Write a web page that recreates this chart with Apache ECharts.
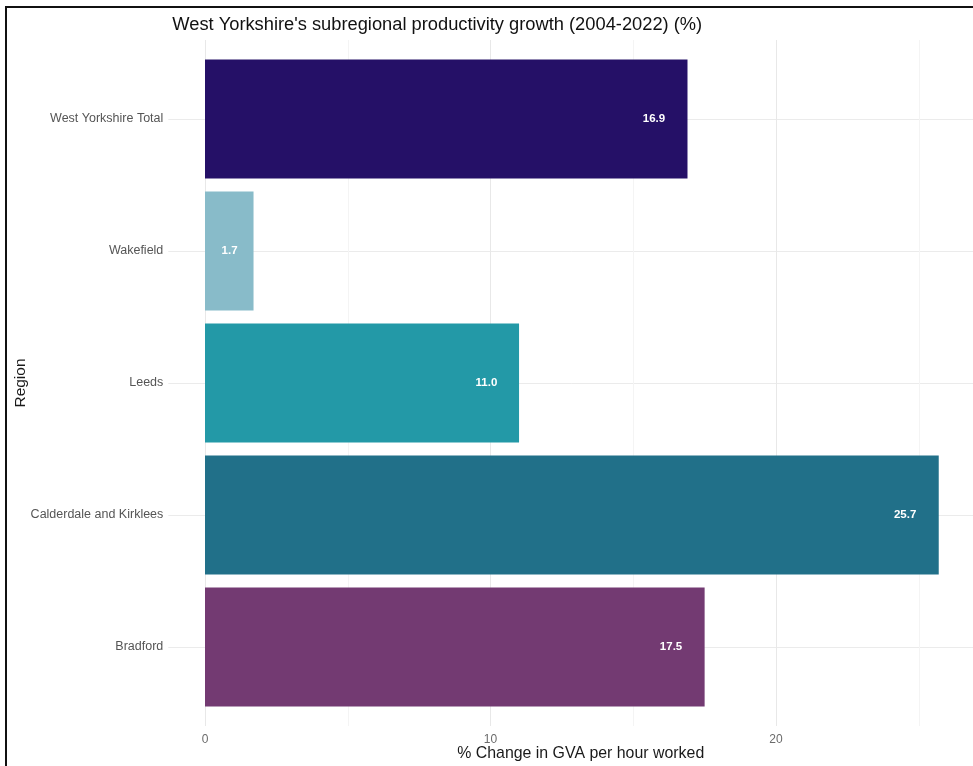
<!DOCTYPE html>
<html>
<head>
<meta charset="utf-8">
<script src="https://cdn.jsdelivr.net/npm/echarts@6/dist/echarts.min.js"></script>
<style>
  html, body { margin: 0; padding: 0; background: #fff; }
  #wrap { position: relative; width: 973px; height: 766px; overflow: hidden; }
  #chart { position: absolute; left: 0; top: 0; width: 973px; height: 766px; }
  #frame { position: absolute; left: 5px; top: 6px; width: 1000px; height: 800px;
           border-left: 2px solid #111; border-top: 2px solid #111; pointer-events: none; }
</style>
</head>
<body>
<div id="wrap"><div id="chart"></div><div id="frame"></div></div>
<script>
// Productivity growth by sub-region, top to bottom
const regions = ['West Yorkshire Total', 'Wakefield', 'Leeds', 'Calderdale and Kirklees', 'Bradford'];
const growth = [16.9, 1.7, 11.0, 25.7, 17.5];
const barColors = ['#251067', '#88bbc9', '#2399a7', '#217089', '#733a72'];
const majorStep = 10;
const minorStep = 5;

const FONT = "'Liberation Sans', Arial, sans-serif";

// panel geometry: value axis padded by 5% of the data range on both sides
const pad = 0.05 * Math.max(...growth);
const xMin = -pad;
const xMax = Math.max(...growth) + pad;
const pxPerUnit = 28.55;
const zeroX = 205;
const panelLeft = zeroX - pad * pxPerUnit;
const panelWidth = (xMax - xMin) * pxPerUnit;

// value labels sit one label-width inside the bar end
const measureCtx = document.createElement('canvas').getContext('2d');
const labelFont = 'bold 11.5px ' + FONT;
measureCtx.font = labelFont;
const labelText = v => v.toFixed(1);
const labelGap = v => measureCtx.measureText(labelText(v)).width;

const chart = echarts.init(document.getElementById('chart'), null, { renderer: 'canvas' });

chart.setOption({
  backgroundColor: '#fff',
  animation: false,
  title: {
    text: "West Yorkshire's subregional productivity growth (2004-2022) (%)",
    left: panelLeft - 1,
    top: 11,
    textStyle: { fontFamily: FONT, fontSize: 18.3, fontWeight: 'normal', color: '#111' }
  },
  grid: [
    // bars: category bands of the inner panel
    { left: panelLeft, width: panelWidth, top: 53, bottom: 53, outerBoundsMode: 'none', containLabel: false },
    // full panel for the vertical grid lines and the value axis
    { left: zeroX, width: xMax * pxPerUnit, top: 40, bottom: 40, outerBoundsMode: 'none', containLabel: false }
  ],
  xAxis: [
    { type: 'value', gridIndex: 0, min: xMin, max: xMax, show: false },
    {
      type: 'value', gridIndex: 1, min: 0, max: xMax, interval: minorStep, position: 'top',
      axisLine: { show: false }, axisTick: { show: false }, axisLabel: { show: false },
      splitLine: { show: true, showMaxLine: false, lineStyle: { color: '#f4f4f4', width: 1 } }
    },
    {
      type: 'value', gridIndex: 1, min: 0, max: xMax, interval: majorStep, position: 'bottom',
      axisLine: { show: false }, axisTick: { show: false },
      axisLabel: { color: '#6b6b6b', fontFamily: FONT, fontSize: 12, margin: 8, showMaxLabel: false },
      splitLine: { show: true, showMaxLine: false, lineStyle: { color: '#e8e8e8', width: 1 } },
      name: '% Change in GVA per hour worked',
      nameLocation: 'middle',
      nameGap: 20,
      nameMoveOverlap: false,
      nameTextStyle: { fontFamily: FONT, fontSize: 15.9, color: '#1a1a1a', padding: [0, 19, 0, 0] }
    }
  ],
  yAxis: [
    {
      type: 'category', gridIndex: 0, data: regions, inverse: true,
      axisLine: { show: false }, axisTick: { show: false },
      axisLabel: { color: '#555', fontFamily: FONT, fontSize: 12.5, margin: 5, padding: [2, 0, 0, 0] },
      splitLine: { show: true, alignWithLabel: true, lineStyle: { color: '#ebebeb', width: 1 } },
      name: 'Region',
      nameLocation: 'middle',
      nameGap: 140,
      nameMoveOverlap: false,
      nameTextStyle: { fontFamily: FONT, fontSize: 15.5, color: '#1a1a1a' }
    },
    { type: 'value', gridIndex: 1, min: 0, max: 1, show: false }
  ],
  series: [{
    type: 'bar',
    xAxisIndex: 0,
    yAxisIndex: 0,
    barCategoryGap: '10%',
    data: growth.map((v, i) => ({
      value: v,
      itemStyle: { color: barColors[i] },
      label: { distance: labelGap(v) }
    })),
    label: {
      show: true,
      position: 'insideRight',
      color: '#fff',
      fontFamily: FONT,
      fontSize: 11.5,
      fontWeight: 'bold',
      formatter: p => labelText(p.value)
    }
  }]
});
</script>
</body>
</html>
